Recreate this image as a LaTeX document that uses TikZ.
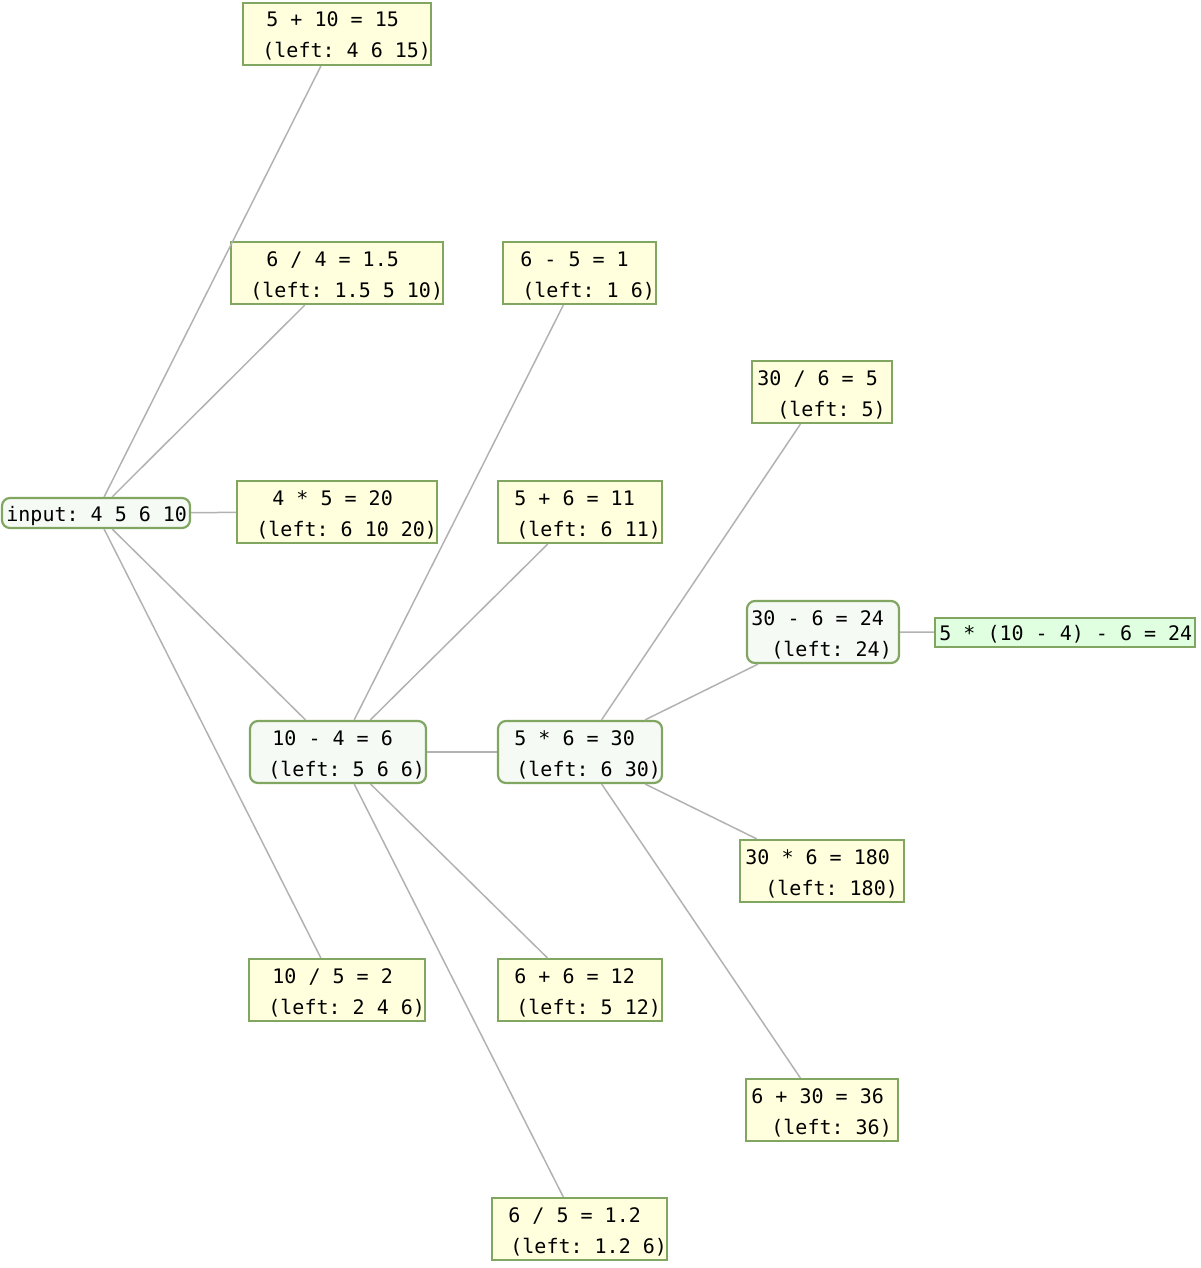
\documentclass[tikz,border=0pt]{standalone}
\usepackage{fontspec}
\setmonofont{DejaVu Sans Mono}
\definecolor{bordc}{RGB}{128,166,98}
\definecolor{yel}{RGB}{255,255,221}
\definecolor{rfill}{RGB}{245,250,245}
\definecolor{gfill}{RGB}{224,255,224}
\definecolor{edgec}{RGB}{178,178,178}
\begin{document}
\begin{tikzpicture}[x=0.5pt,y=-0.5pt,
  box/.style={draw=bordc, line width=1.1pt, fill=yel, inner sep=0pt, minimum height=31pt},
  rbox/.style={box, fill=rfill, rounded corners=4pt},
  gbox/.style={box, fill=gfill},
  edge/.style={draw=edgec, line width=0.75pt},
  lbl/.style={anchor=base west, inner sep=0pt, xshift=0.5pt, font=\ttfamily\fontsize{10pt}{12pt}\selectfont}]
\useasboundingbox (0,0) rectangle (1200,1268);

% boxes
\node[rbox, minimum width=94pt, minimum height=15pt] (in) at (96,513) {};
\node[box, minimum width=94pt] (n2) at (337,34) {};
\node[box, minimum width=106pt] (n3) at (337,273) {};
\node[box, minimum width=100pt] (n4) at (337,512) {};
\node[rbox, minimum width=88pt] (n5) at (338,752) {};
\node[box, minimum width=88pt] (n6) at (337,990) {};
\node[box, minimum width=76.5pt] (n7) at (579.5,273) {};
\node[box, minimum width=82pt] (n8) at (580,512) {};
\node[rbox, minimum width=82pt] (n9) at (580,752) {};
\node[box, minimum width=82pt] (n10) at (580,990) {};
\node[box, minimum width=87.5pt] (n11) at (579.5,1229) {};
\node[box, minimum width=70pt] (n12) at (822,392) {};
\node[rbox, minimum width=76pt] (n13) at (823,632) {};
\node[box, minimum width=82pt] (n14) at (822,871) {};
\node[box, minimum width=76pt] (n15) at (822,1110) {};
\node[gbox, minimum width=130pt, minimum height=14.5pt] (n16) at (1065,632.5) {};

% edges
\foreach \t in {n2,n3,n4,n5,n6} \draw[edge] (in) -- (\t);
\foreach \t in {n7,n8,n9,n10,n11} \draw[edge] (n5) -- (\t);
\foreach \t in {n12,n13,n14,n15} \draw[edge] (n9) -- (\t);
\draw[edge] (n13) -- (n16);

% labels
\node[lbl] (tin) at (5,521) {input: 4 5 6 10};
\node[lbl] (t2a) at (265,27) {5 + 10 = 15};
\node[lbl] (t2b) at (261,58) {(left: 4 6 15)};
\node[lbl] (t3a) at (265,266) {6 / 4 = 1.5};
\node[lbl] (t3b) at (249,297) {(left: 1.5 5 10)};
\node[lbl] (t4a) at (271,505) {4 * 5 = 20};
\node[lbl] (t4b) at (255,536) {(left: 6 10 20)};
\node[lbl] (t5a) at (271,745) {10 - 4 = 6};
\node[lbl] (t5b) at (267,776) {(left: 5 6 6)};
\node[lbl] (t6a) at (271,983) {10 / 5 = 2};
\node[lbl] (t6b) at (267,1014) {(left: 2 4 6)};
\node[lbl] (t7a) at (519,266) {6 - 5 = 1};
\node[lbl] (t7b) at (521,297) {(left: 1 6)};
\node[lbl] (t8a) at (513,505) {5 + 6 = 11};
\node[lbl] (t8b) at (515,536) {(left: 6 11)};
\node[lbl] (t9a) at (513,745) {5 * 6 = 30};
\node[lbl] (t9b) at (515,776) {(left: 6 30)};
\node[lbl] (t10a) at (513,983) {6 + 6 = 12};
\node[lbl] (t10b) at (515,1014) {(left: 5 12)};
\node[lbl] (t11a) at (507,1222) {6 / 5 = 1.2};
\node[lbl] (t11b) at (509,1253) {(left: 1.2 6)};
\node[lbl] (t12a) at (756,385) {30 / 6 = 5};
\node[lbl] (t12b) at (776,416) {(left: 5)};
\node[lbl] (t13a) at (750,625) {30 - 6 = 24};
\node[lbl] (t13b) at (770,656) {(left: 24)};
\node[lbl] (t14a) at (744,864) {30 * 6 = 180};
\node[lbl] (t14b) at (764,895) {(left: 180)};
\node[lbl] (t15a) at (750,1103) {6 + 30 = 36};
\node[lbl] (t15b) at (770,1134) {(left: 36)};
\node[lbl] (t16) at (938,640) {5 * (10 - 4) - 6 = 24};
\end{tikzpicture}
\end{document}
